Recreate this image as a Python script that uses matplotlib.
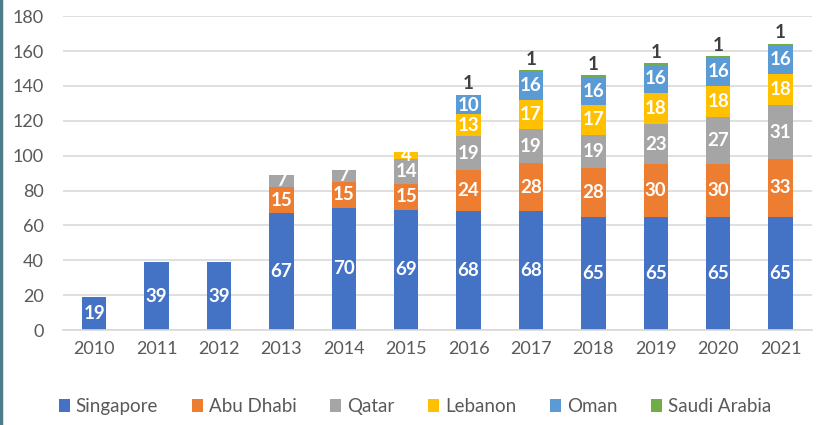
import matplotlib.pyplot as plt
import numpy as np
from matplotlib.lines import Line2D

plt.rcParams['font.family'] = ['Lato', 'DejaVu Sans']

years = ['2010', '2011', '2012', '2013', '2014', '2015', '2016', '2017', '2018', '2019', '2020', '2021']
singapore = [19, 39, 39, 67, 70, 69, 68, 68, 65, 65, 65, 65]
abu_dhabi = [0, 0, 0, 15, 15, 15, 24, 28, 28, 30, 30, 33]
qatar = [0, 0, 0, 7, 7, 14, 19, 19, 19, 23, 27, 31]
lebanon = [0, 0, 0, 0, 0, 4, 13, 17, 17, 18, 18, 18]
oman = [0, 0, 0, 0, 0, 0, 10, 16, 16, 16, 16, 16]
saudi = [0, 0, 0, 0, 0, 0, 1, 1, 1, 1, 1, 1]

series = [
    ('Singapore', singapore, '#4472C4'),
    ('Abu Dhabi', abu_dhabi, '#ED7D31'),
    ('Qatar', qatar, '#A5A5A5'),
    ('Lebanon', lebanon, '#FFC000'),
    ('Oman', oman, '#5B9BD5'),
    ('Saudi Arabia', saudi, '#70AD47'),
]

fig = plt.figure(figsize=(8.21, 4.25), dpi=100)
ax = fig.add_axes([0.0767, 0.2235, 0.912, 0.7385])

x = np.arange(len(years))
bottom = np.zeros(len(years))
for name, vals, col in series:
    vals = np.array(vals, dtype=float)
    ax.bar(x, vals, 0.39, bottom=bottom, color=col, label=name, zorder=2)
    for i, v in enumerate(vals):
        if v <= 0:
            continue
        if name == 'Saudi Arabia':
            ax.text(x[i], bottom[i] + v + 1.5, '%d' % v, ha='center', va='bottom',
                    color='#404040', fontsize=13.5, fontweight='bold')
        else:
            ax.text(x[i], bottom[i] + v / 2, '%d' % v, ha='center', va='center',
                    color='white', fontsize=13.5, fontweight='bold')
    bottom += vals

ax.set_xlim(-0.5, len(years) - 0.5)
ax.set_ylim(0, 180)
ax.set_yticks(range(0, 181, 20))
ax.set_xticks(x)
ax.set_xticklabels(years)
ax.yaxis.grid(True, color='#d9d9d9', linewidth=1.2, zorder=0)
ax.set_axisbelow(True)
for s in ['top', 'right', 'left']:
    ax.spines[s].set_visible(False)
ax.spines['bottom'].set_color('#d9d9d9')
ax.spines['bottom'].set_linewidth(1.2)
ax.tick_params(axis='both', length=0, labelsize=13, colors='#595959')
ax.tick_params(axis='y', pad=14)
ax.tick_params(axis='x', pad=8)

ax.legend(loc='center', bbox_to_anchor=(0.47, -0.245), ncol=6, frameon=False,
          fontsize=13.5, handlelength=0.6, handleheight=0.7, handletextpad=0.3,
          columnspacing=1.8, labelcolor='#595959')

fig.add_artist(Line2D([0.0015, 0.0015], [0, 1], transform=fig.transFigure,
                      color='#4f7a8a', linewidth=2.5))

fig.savefig('out.png', dpi=100)
